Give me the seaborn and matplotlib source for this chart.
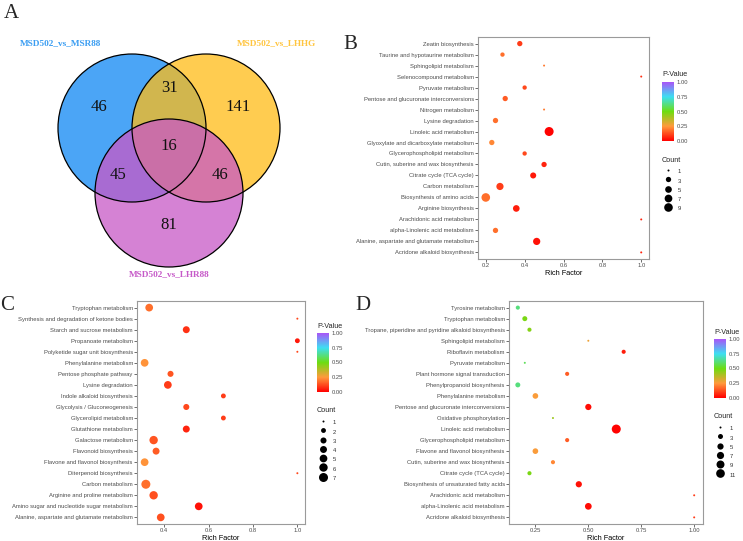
"""Venn diagram + three KEGG enrichment bubble plots (panels A-D)."""

import matplotlib
matplotlib.use("Agg")
import matplotlib.pyplot as plt
import numpy as np
import pandas as pd
import seaborn as sns
from matplotlib.cm import ScalarMappable
from matplotlib.colors import LinearSegmentedColormap, Normalize
from matplotlib.lines import Line2D
from matplotlib.patches import Circle

# ---------------- data ----------------
venn_names = ["MSD502_vs_MSR88", "MSD502_vs_LHHG", "MSD502_vs_LHR88"]
venn_regions = ["100", "110", "010", "111", "101", "011", "001"]
venn_counts = [46, 31, 141, 16, 45, 46, 81]

b_pathways = [
    "Zeatin biosynthesis", "Taurine and hypotaurine metabolism", "Sphingolipid metabolism",
    "Selenocompound metabolism", "Pyruvate metabolism", "Pentose and glucuronate interconversions",
    "Nitrogen metabolism", "Lysine degradation", "Linoleic acid metabolism",
    "Glyoxylate and dicarboxylate metabolism", "Glycerophospholipid metabolism",
    "Cutin, suberine and wax biosynthesis", "Citrate cycle (TCA cycle)", "Carbon metabolism",
    "Biosynthesis of amino acids", "Arginine biosynthesis", "Arachidonic acid metabolism",
    "alpha-Linolenic acid metabolism", "Alanine, aspartate and glutamate metabolism",
    "Acridone alkaloid biosynthesis",
]
b_rich = [0.375, 0.286, 0.5, 1.0, 0.4, 0.3, 0.5, 0.25, 0.526, 0.231,
          0.4, 0.5, 0.444, 0.273, 0.2, 0.357, 1.0, 0.25, 0.462, 1.0]
b_count = [3, 2, 1, 1, 2, 3, 1, 3, 10, 3, 2, 3, 4, 6, 9, 5, 1, 3, 6, 1]
b_pvalue = [0.10, 0.18, 0.20, 0.08, 0.12, 0.15, 0.20, 0.18, 0.005, 0.22,
            0.12, 0.06, 0.04, 0.10, 0.18, 0.05, 0.06, 0.18, 0.03, 0.06]
b_breaks = [1, 3, 5, 7, 9]

c_pathways = [
    "Tryptophan metabolism", "Synthesis and degradation of ketone bodies",
    "Starch and sucrose metabolism", "Propanoate metabolism", "Polyketide sugar unit biosynthesis",
    "Phenylalanine metabolism", "Pentose phosphate pathway", "Lysine degradation",
    "Indole alkaloid biosynthesis", "Glycolysis / Gluconeogenesis", "Glycerolipid metabolism",
    "Glutathione metabolism", "Galactose metabolism", "Flavonoid biosynthesis",
    "Flavone and flavonol biosynthesis", "Diterpenoid biosynthesis", "Carbon metabolism",
    "Arginine and proline metabolism", "Amino sugar and nucleotide sugar metabolism",
    "Alanine, aspartate and glutamate metabolism",
]
c_rich = [0.333, 1.0, 0.5, 1.0, 1.0, 0.3125, 0.429, 0.417, 0.667, 0.5,
          0.667, 0.5, 0.353, 0.364, 0.3125, 1.0, 0.318, 0.353, 0.556, 0.385]
c_count = [5, 1, 4, 2, 1, 5, 3, 5, 2, 3, 2, 4, 6, 4, 5, 1, 7, 6, 5, 5]
c_pvalue = [0.18, 0.12, 0.08, 0.04, 0.12, 0.24, 0.14, 0.10, 0.10, 0.12,
            0.10, 0.06, 0.14, 0.15, 0.24, 0.12, 0.18, 0.13, 0.03, 0.13]
c_breaks = [1, 2, 3, 4, 5, 6, 7]

d_pathways = [
    "Tyrosine metabolism", "Tryptophan metabolism",
    "Tropane, piperidine and pyridine alkaloid biosynthesis", "Sphingolipid metabolism",
    "Riboflavin metabolism", "Pyruvate metabolism", "Plant hormone signal transduction",
    "Phenylpropanoid biosynthesis", "Phenylalanine metabolism",
    "Pentose and glucuronate interconversions", "Oxidative phosphorylation",
    "Linoleic acid metabolism", "Glycerophospholipid metabolism",
    "Flavone and flavonol biosynthesis", "Cutin, suberine and wax biosynthesis",
    "Citrate cycle (TCA cycle)", "Biosynthesis of unsaturated fatty acids",
    "Arachidonic acid metabolism", "alpha-Linolenic acid metabolism",
    "Acridone alkaloid biosynthesis",
]
d_rich = [0.167, 0.2, 0.222, 0.5, 0.667, 0.2, 0.4, 0.167, 0.25, 0.5,
          0.333, 0.632, 0.4, 0.25, 0.333, 0.222, 0.455, 1.0, 0.5, 1.0]
d_count = [2, 3, 2, 1, 2, 1, 2, 3, 4, 5, 1, 12, 2, 4, 2, 2, 5, 1, 6, 1]
d_pvalue = [0.62, 0.48, 0.46, 0.28, 0.05, 0.58, 0.15, 0.62, 0.26, 0.02,
            0.42, 0.005, 0.15, 0.26, 0.22, 0.48, 0.03, 0.10, 0.02, 0.10]
d_breaks = [1, 3, 5, 7, 9, 11]

# ---------------- style ----------------
W, H = 743, 541
sns.set_theme(style="white")
plt.rcParams["font.family"] = ["Liberation Sans", "DejaVu Sans"]
SERIF = ["Liberation Serif", "DejaVu Serif"]

pv_cmap = LinearSegmentedColormap.from_list(
    "pv", [(0.0, "#ff0000"), (0.25, "#ff9a3c"), (0.5, "#6ddd10"),
           (0.75, "#3ddff2"), (1.0, "#a855f7")])
D_MIN, D_MAX = 2.0, 9.0  # point diameters in px (ggplot area palette)

fig = plt.figure(figsize=(W / 100, H / 100), dpi=100)


def px_axes(x0, y0, x1, y1):
    return fig.add_axes([x0 / W, 1 - y1 / H, (x1 - x0) / W, (y1 - y0) / H])


def diam(c, lo, hi):
    return D_MIN + np.sqrt((c - lo) / (hi - lo)) * (D_MAX - D_MIN)


def dot_panel(box, pathways, rich, count, pvalue, xticks, xfmt, breaks, leg_x, leg_y):
    ax = px_axes(*box)
    df = pd.DataFrame({"pathway": pathways, "rich": rich, "count": count, "pvalue": pvalue})
    lo, hi = min(count), max(count)
    sizes = {c: (diam(c, lo, hi) * 0.72) ** 2 for c in sorted(set(count))}
    sns.scatterplot(data=df, x="rich", y="pathway", hue="pvalue", size="count",
                    palette=pv_cmap, hue_norm=(0, 1), sizes=sizes, linewidth=0,
                    legend=False, ax=ax)
    n = len(pathways)
    ax.set_ylim(n - 0.4, -0.6)
    r0, r1 = min(rich), max(rich)
    pad = 0.05 * (r1 - r0)
    ax.set_xlim(r0 - pad, r1 + pad)
    ax.set_xticks(xticks)
    ax.set_xticklabels([xfmt.format(t) for t in xticks])
    ax.set_ylabel("")
    ax.set_xlabel("Rich Factor", fontsize=5.3, labelpad=1.5, color="black")
    ax.tick_params(length=2, width=0.5, color="#333333", labelsize=4.2,
                   labelcolor="#4d4d4d", pad=1, left=True, bottom=True)
    for s in ax.spines.values():
        s.set_color("#9a9a9a")
        s.set_linewidth(0.8)

    # colour bar
    fig.text(leg_x / W, 1 - leg_y / H, "P-Value", fontsize=5.2, ha="left", va="center")
    cax = px_axes(leg_x, leg_y + 7, leg_x + 11.5, leg_y + 66)
    cb = fig.colorbar(ScalarMappable(norm=Normalize(0, 1), cmap=pv_cmap), cax=cax)
    cb.set_ticks([0, 0.25, 0.5, 0.75, 1.0])
    cb.set_ticklabels(["0.00", "0.25", "0.50", "0.75", "1.00"])
    cb.outline.set_visible(False)
    cax.tick_params(length=2, width=0.5, color="white", direction="in",
                    labelsize=4.2, labelcolor="#4d4d4d", pad=2.5, right=True)

    # size legend
    fig.text(leg_x / W, 1 - (leg_y + 85) / H, "Count", fontsize=5.2, ha="left", va="center")
    handles = [Line2D([], [], ls="", marker="o", color="black", markeredgewidth=0,
                      markersize=diam(b, lo, hi) * 0.72) for b in breaks]
    fs = 4.2
    fig.legend(handles, [str(b) for b in breaks], loc="upper left",
               bbox_to_anchor=(leg_x / W, 1 - (leg_y + 92) / H), frameon=False,
               fontsize=fs, handlelength=11 * 0.72 / fs, handleheight=12 * 0.72 / fs,
               labelspacing=0, borderpad=0, borderaxespad=0,
               handletextpad=4.5 * 0.72 / fs, labelcolor="#333333")
    return ax


# ---------------- A: Venn ----------------
va = px_axes(0, 0, 340, 290)
va.set_xlim(0, 340)
va.set_ylim(290, 0)
va.set_axis_off()
circles = [((132, 128), "#0e87f4"), ((206, 128), "#ffbc16"), ((169, 193), "#c858c6")]
R = 74
for (cx, cy), col in circles:
    va.add_patch(Circle((cx, cy), R, facecolor=col, alpha=0.75, edgecolor="none"))
for (cx, cy), _ in circles:
    va.add_patch(Circle((cx, cy), R, facecolor="none", edgecolor="black", linewidth=0.9))
region_xy = {"100": (99, 107), "110": (169, 88), "010": (238, 107), "111": (169, 146),
             "101": (118, 175), "011": (220, 175), "001": (169, 225)}
for reg, cnt in zip(venn_regions, venn_counts):
    x, y = region_xy[reg]
    va.text(x, y, str(cnt), ha="center", va="center", fontsize=12, family=SERIF, color="#111111")
name_xy = [(61, 43, "#3a9df2"), (277, 43, "#ffc53f"), (169.5, 274, "#c65ac8")]
for name, (x, y, col) in zip(venn_names, name_xy):
    va.text(x, y, name, ha="center", va="center", fontsize=6.7, family=SERIF,
            fontweight="bold", color=col)

# ---------------- B, C, D ----------------
dot_panel((478, 37, 649, 259), b_pathways, b_rich, b_count, b_pvalue,
          [0.2, 0.4, 0.6, 0.8, 1.0], "{:.1f}", b_breaks, 662, 75)
dot_panel((137, 301, 305, 524), c_pathways, c_rich, c_count, c_pvalue,
          [0.4, 0.6, 0.8, 1.0], "{:.1f}", c_breaks, 317, 326)
dot_panel((509, 301, 703, 524), d_pathways, d_rich, d_count, d_pvalue,
          [0.25, 0.5, 0.75, 1.0], "{:.2f}", d_breaks, 714, 332)

for letter, x, y in [("A", 11, 13), ("B", 350, 44.5), ("C", 7.5, 305.5), ("D", 362.5, 305.5)]:
    fig.text(x / W, 1 - y / H, letter, fontsize=15, family=SERIF, ha="center", va="center")

fig.savefig("out.png", dpi=100)
